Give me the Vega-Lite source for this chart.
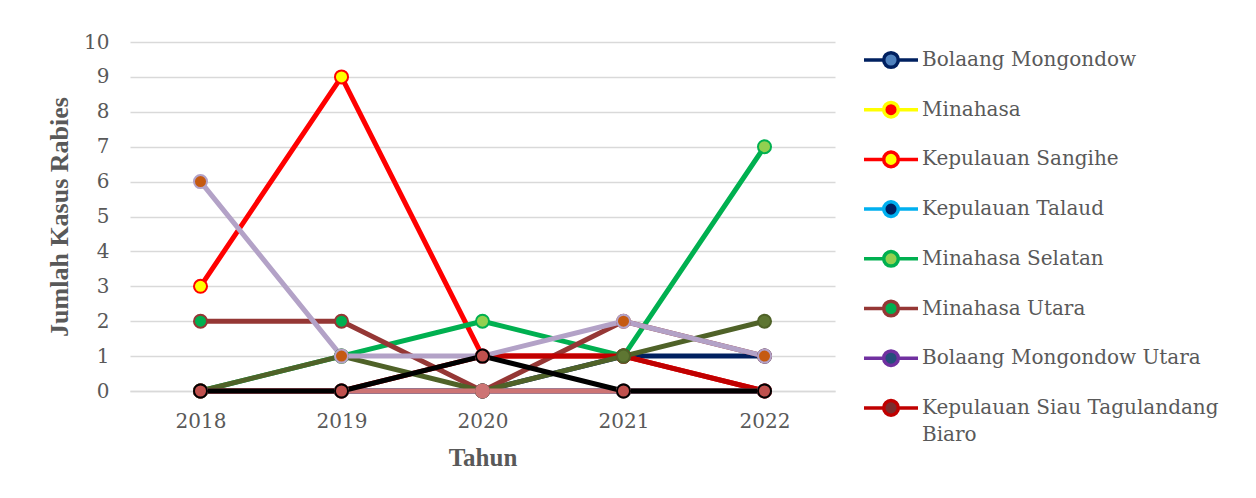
{
  "$schema": "https://vega.github.io/schema/vega-lite/v6.json",
  "autosize": {"type": "none"},
  "width": 705,
  "height": 349,
  "padding": {"left": 130, "top": 42, "right": 421, "bottom": 107},
  "background": "white",
  "config": {
    "view": {"stroke": null},
    "style": {"guide-label": {"lineHeight": 27}}
  },
  "data": {
    "values": [
      {"Wilayah": "Bolaang  Mongondow", "Tahun": "2018", "Kasus": 0},
      {"Wilayah": "Bolaang  Mongondow", "Tahun": "2019", "Kasus": 0},
      {"Wilayah": "Bolaang  Mongondow", "Tahun": "2020", "Kasus": 0},
      {"Wilayah": "Bolaang  Mongondow", "Tahun": "2021", "Kasus": 1},
      {"Wilayah": "Bolaang  Mongondow", "Tahun": "2022", "Kasus": 1},
      {"Wilayah": "Minahasa", "Tahun": "2018", "Kasus": 0},
      {"Wilayah": "Minahasa", "Tahun": "2019", "Kasus": 0},
      {"Wilayah": "Minahasa", "Tahun": "2020", "Kasus": 0},
      {"Wilayah": "Minahasa", "Tahun": "2021", "Kasus": 0},
      {"Wilayah": "Minahasa", "Tahun": "2022", "Kasus": 0},
      {"Wilayah": "Kepulauan Sangihe", "Tahun": "2018", "Kasus": 3},
      {"Wilayah": "Kepulauan Sangihe", "Tahun": "2019", "Kasus": 9},
      {"Wilayah": "Kepulauan Sangihe", "Tahun": "2020", "Kasus": 1},
      {"Wilayah": "Kepulauan Sangihe", "Tahun": "2021", "Kasus": 1},
      {"Wilayah": "Kepulauan Sangihe", "Tahun": "2022", "Kasus": 0},
      {"Wilayah": "Kepulauan Talaud", "Tahun": "2018", "Kasus": 0},
      {"Wilayah": "Kepulauan Talaud", "Tahun": "2019", "Kasus": 0},
      {"Wilayah": "Kepulauan Talaud", "Tahun": "2020", "Kasus": 0},
      {"Wilayah": "Kepulauan Talaud", "Tahun": "2021", "Kasus": 0},
      {"Wilayah": "Kepulauan Talaud", "Tahun": "2022", "Kasus": 0},
      {"Wilayah": "Minahasa Selatan", "Tahun": "2018", "Kasus": 0},
      {"Wilayah": "Minahasa Selatan", "Tahun": "2019", "Kasus": 1},
      {"Wilayah": "Minahasa Selatan", "Tahun": "2020", "Kasus": 2},
      {"Wilayah": "Minahasa Selatan", "Tahun": "2021", "Kasus": 1},
      {"Wilayah": "Minahasa Selatan", "Tahun": "2022", "Kasus": 7},
      {"Wilayah": "Minahasa Utara", "Tahun": "2018", "Kasus": 2},
      {"Wilayah": "Minahasa Utara", "Tahun": "2019", "Kasus": 2},
      {"Wilayah": "Minahasa Utara", "Tahun": "2020", "Kasus": 0},
      {"Wilayah": "Minahasa Utara", "Tahun": "2021", "Kasus": 2},
      {"Wilayah": "Minahasa Utara", "Tahun": "2022", "Kasus": 1},
      {"Wilayah": "Bolaang Mongondow Utara", "Tahun": "2018", "Kasus": 0},
      {"Wilayah": "Bolaang Mongondow Utara", "Tahun": "2019", "Kasus": 0},
      {"Wilayah": "Bolaang Mongondow Utara", "Tahun": "2020", "Kasus": 0},
      {"Wilayah": "Bolaang Mongondow Utara", "Tahun": "2021", "Kasus": 0},
      {"Wilayah": "Bolaang Mongondow Utara", "Tahun": "2022", "Kasus": 0},
      {"Wilayah": "Kepulauan Siau Tagulandang Biaro", "Tahun": "2018", "Kasus": 0},
      {"Wilayah": "Kepulauan Siau Tagulandang Biaro", "Tahun": "2019", "Kasus": 0},
      {"Wilayah": "Kepulauan Siau Tagulandang Biaro", "Tahun": "2020", "Kasus": 1},
      {"Wilayah": "Kepulauan Siau Tagulandang Biaro", "Tahun": "2021", "Kasus": 1},
      {"Wilayah": "Kepulauan Siau Tagulandang Biaro", "Tahun": "2022", "Kasus": 0},
      {"Wilayah": "Lainnya A", "Tahun": "2018", "Kasus": 0},
      {"Wilayah": "Lainnya A", "Tahun": "2019", "Kasus": 1},
      {"Wilayah": "Lainnya A", "Tahun": "2020", "Kasus": 0},
      {"Wilayah": "Lainnya A", "Tahun": "2021", "Kasus": 1},
      {"Wilayah": "Lainnya A", "Tahun": "2022", "Kasus": 2},
      {"Wilayah": "Lainnya B", "Tahun": "2018", "Kasus": 6},
      {"Wilayah": "Lainnya B", "Tahun": "2019", "Kasus": 1},
      {"Wilayah": "Lainnya B", "Tahun": "2020", "Kasus": 1},
      {"Wilayah": "Lainnya B", "Tahun": "2021", "Kasus": 2},
      {"Wilayah": "Lainnya B", "Tahun": "2022", "Kasus": 1},
      {"Wilayah": "Lainnya C", "Tahun": "2018", "Kasus": 0},
      {"Wilayah": "Lainnya C", "Tahun": "2019", "Kasus": 0},
      {"Wilayah": "Lainnya C", "Tahun": "2020", "Kasus": 0},
      {"Wilayah": "Lainnya C", "Tahun": "2021", "Kasus": 0},
      {"Wilayah": "Lainnya C", "Tahun": "2022", "Kasus": 0},
      {"Wilayah": "Lainnya D", "Tahun": "2018", "Kasus": 0},
      {"Wilayah": "Lainnya D", "Tahun": "2019", "Kasus": 0},
      {"Wilayah": "Lainnya D", "Tahun": "2020", "Kasus": 1},
      {"Wilayah": "Lainnya D", "Tahun": "2021", "Kasus": 0},
      {"Wilayah": "Lainnya D", "Tahun": "2022", "Kasus": 0}
    ]
  },
  "encoding": {
    "x": {
      "field": "Tahun",
      "type": "ordinal",
      "sort": null,
      "scale": {"type": "point", "padding": 0.5},
      "axis": {
        "title": "Tahun",
        "titleFont": "Liberation Serif",
        "titleFontSize": 25,
        "titleFontWeight": "bold",
        "titleColor": "#595959",
        "titlePadding": 14,
        "labelFont": "DejaVu Serif",
        "labelFontSize": 20,
        "labelColor": "#595959",
        "labelPadding": 20,
        "labelAngle": 0,
        "ticks": false,
        "domain": true,
        "domainColor": "#D9D9D9",
        "domainWidth": 1.5,
        "grid": false
      }
    },
    "y": {
      "field": "Kasus",
      "type": "quantitative",
      "scale": {"domain": [0, 10], "nice": false},
      "axis": {
        "title": "Jumlah Kasus Rabies",
        "titleFont": "Liberation Serif",
        "titleFontSize": 26,
        "titleFontWeight": "bold",
        "titleColor": "#595959",
        "titlePadding": 11,
        "labelFont": "DejaVu Serif",
        "labelFontSize": 20,
        "labelColor": "#595959",
        "labelPadding": 21,
        "values": [0, 1, 2, 3, 4, 5, 6, 7, 8, 9, 10],
        "ticks": false,
        "domain": false,
        "grid": true,
        "gridColor": "#D9D9D9",
        "gridWidth": 1.5
      }
    }
  },
  "layer": [
    {
      "mark": {"type": "line", "strokeWidth": 5, "strokeCap": "round", "strokeJoin": "round"},
      "encoding": {
        "stroke": {
          "field": "Wilayah",
          "type": "nominal",
          "sort": null,
          "scale": {
            "domain": ["Bolaang  Mongondow", "Minahasa", "Kepulauan Sangihe", "Kepulauan Talaud", "Minahasa Selatan", "Minahasa Utara", "Bolaang Mongondow Utara", "Kepulauan Siau Tagulandang Biaro", "Lainnya A", "Lainnya B", "Lainnya C", "Lainnya D"],
            "range": ["#002060", "#FFFF00", "#FF0000", "#00B0F0", "#00B050", "#953735", "#7030A0", "#C00000", "#4F6228", "#B3A2C7", "#CD7474", "#000000"]
          },
          "legend": {
            "title": null,
            "orient": "none",
            "legendX": 732,
            "legendY": -11,
            "values": ["Bolaang  Mongondow", "Minahasa", "Kepulauan Sangihe", "Kepulauan Talaud", "Minahasa Selatan", "Minahasa Utara", "Bolaang Mongondow Utara", "Kepulauan Siau Tagulandang Biaro"],
            "labelExpr": "datum.label == 'Kepulauan Siau Tagulandang Biaro' ? ['Kepulauan Siau Tagulandang', 'Biaro'] : datum.label",
            "labelFont": "DejaVu Serif",
            "labelFontSize": 20,
            "labelColor": "#595959",
            "labelLimit": 400,
            "labelOffset": 2,
            "labelBaseline": "middle",
            "symbolType": "M-1,0L-0.27,0M0.27,0L1,0M-0.27,0A0.27,0.27,0,1,1,0.27,0A0.27,0.27,0,1,1,-0.27,0Z",
            "symbolSize": 2916,
            "symbolStrokeWidth": 3.5,
            "rowPadding": 5.7
          }
        }
      }
    },
    {
      "mark": {"type": "point", "shape": "circle", "filled": true, "size": 170, "strokeWidth": 2, "opacity": 1},
      "encoding": {
        "stroke": {"field": "Wilayah", "type": "nominal", "sort": null},
        "fill": {
          "field": "Wilayah",
          "type": "nominal",
          "sort": null,
          "scale": {
            "domain": ["Bolaang  Mongondow", "Minahasa", "Kepulauan Sangihe", "Kepulauan Talaud", "Minahasa Selatan", "Minahasa Utara", "Bolaang Mongondow Utara", "Kepulauan Siau Tagulandang Biaro", "Lainnya A", "Lainnya B", "Lainnya C", "Lainnya D"],
            "range": ["#4F81BD", "#FF0000", "#FFFF00", "#002060", "#92D050", "#00B050", "#254E7B", "#7B2D2D", "#5E7632", "#C55A11", "#CD7474", "#C0504D"]
          },
          "legend": {
            "title": null,
            "orient": "none",
            "legendX": 732,
            "legendY": -11,
            "values": ["Bolaang  Mongondow", "Minahasa", "Kepulauan Sangihe", "Kepulauan Talaud", "Minahasa Selatan", "Minahasa Utara", "Bolaang Mongondow Utara", "Kepulauan Siau Tagulandang Biaro"],
            "labelExpr": "datum.label == 'Kepulauan Siau Tagulandang Biaro' ? ['Kepulauan Siau Tagulandang', 'Biaro'] : datum.label",
            "labelFont": "DejaVu Serif",
            "labelFontSize": 20,
            "labelColor": "#595959",
            "labelLimit": 400,
            "labelOffset": 2,
            "labelBaseline": "middle",
            "symbolType": "M-1,0L-0.27,0M0.27,0L1,0M-0.27,0A0.27,0.27,0,1,1,0.27,0A0.27,0.27,0,1,1,-0.27,0Z",
            "symbolSize": 2916,
            "symbolStrokeWidth": 3.5,
            "rowPadding": 5.7
          }
        }
      }
    }
  ]
}
